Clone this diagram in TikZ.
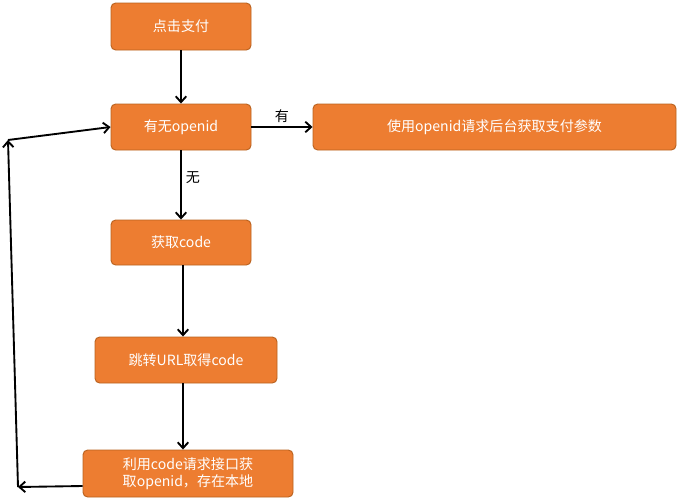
\documentclass[tikz,border=0pt]{standalone}
\usepackage{fontspec}
\setmainfont{Noto Sans CJK SC}
\usetikzlibrary{arrows.meta}
\definecolor{box}{HTML}{ED7D31}
\definecolor{boxline}{HTML}{B9621F}
\begin{document}
\begin{tikzpicture}[x=0.03cm,y=-0.03cm,
  bx/.style={draw=boxline,fill=box,rounded corners=4pt,text=white,font=\fontsize{12}{14}\selectfont,inner sep=0pt,align=center,line width=0.8pt},
  ar/.style={-{Straight Barb[length=5pt,width=9pt]},line width=1.6pt},
  lb/.style={font=\fontsize{12}{14}\selectfont}]
\useasboundingbox (0,0) rectangle (683,500);
\node[bx,minimum width=140*0.03cm,minimum height=47*0.03cm] (a) at (181,26.5) {点击支付};
\node[bx,minimum width=140*0.03cm,minimum height=46*0.03cm] (b) at (181,127) {有无openid};
\node[bx,minimum width=363*0.03cm,minimum height=46*0.03cm] (c) at (494.5,127) {使用openid请求后台获取支付参数};
\node[bx,minimum width=140*0.03cm,minimum height=45*0.03cm] (d) at (181,242.5) {获取code};
\node[bx,minimum width=182*0.03cm,minimum height=46*0.03cm] (e) at (186,360) {跳转URL取得code};
\node[bx,minimum width=210*0.03cm,minimum height=47*0.03cm,text width=200*0.03cm] (f) at (188,473.5) {利用code请求接口获\\取openid，存在本地};
\coordinate (p1) at (18,487);
\coordinate (p2) at (8,140);
\draw[ar] (a) -- (b);
\draw[ar] (b) -- node[lb,above]{有} (c);
\draw[ar] (b) -- node[lb,right,pos=0.4]{无} (d);
\draw[ar] (d.south -| 183,0) -- (e.north -| 183,0);
\draw[ar] (e.south -| 183,0) -- (f.north -| 183,0);
\draw[ar] (f.west |- 0,486) -- (p1);
\draw[ar] (p1) -- (p2);
\draw[ar] (p2) -- (b.west);
\end{tikzpicture}
\end{document}
